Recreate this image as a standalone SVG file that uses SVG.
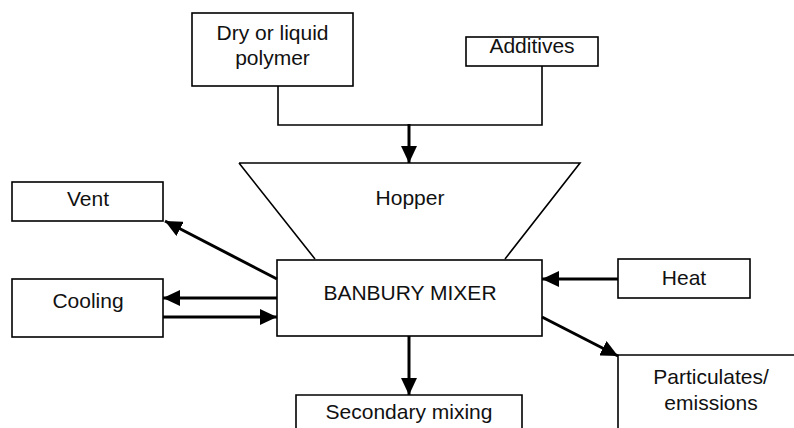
<svg xmlns="http://www.w3.org/2000/svg" width="794" height="428" viewBox="0 0 794 428">
<style>
.box{fill:#fff;stroke:#000;stroke-width:1.6}
.ln{fill:none;stroke:#000;stroke-width:1.6}
.ar{fill:none;stroke:#000;stroke-width:3;marker-end:url(#ah)}
text{font-family:"Liberation Sans",Arial,sans-serif;font-size:21px;fill:#111;text-anchor:middle}
</style>
<defs>
<marker id="ah" markerUnits="userSpaceOnUse" markerWidth="18" markerHeight="16" refX="17" refY="8" orient="auto">
<path d="M0,0 L17,8 L0,16 Z" fill="#000"/>
</marker>
</defs>
<g id="hopper">
<path class="ln" d="M239,163 L580,163 L505,259 M239,163 L315,259"/>
<text x="410" y="205">Hopper</text>
</g>
<g id="polymer">
<rect class="box" x="192" y="13" width="161" height="73"/>
<text x="272.5" y="40">Dry or liquid</text>
<text x="272.5" y="65">polymer</text>
</g>
<g id="additives">
<rect class="box" x="466" y="37" width="132" height="29"/>
<text x="532" y="53">Additives</text>
</g>
<g id="banbury">
<rect class="box" x="277" y="260" width="265" height="76"/>
<text x="410" y="300">BANBURY MIXER</text>
</g>
<g id="vent">
<rect class="box" x="12" y="182" width="151" height="39"/>
<text x="88" y="206">Vent</text>
</g>
<g id="cooling">
<rect class="box" x="12" y="279" width="151" height="58"/>
<text x="88" y="308">Cooling</text>
</g>
<g id="heat">
<rect class="box" x="618" y="259" width="132" height="39"/>
<text x="684" y="285">Heat</text>
</g>
<g id="secondary">
<path class="box" d="M296,430 L296,395 L522,395 L522,430"/>
<text x="409" y="419">Secondary mixing</text>
</g>
<g id="particulates">
<path class="ln" d="M618,430 L618,355 L796,355"/>
<text x="711" y="384">Particulates/</text>
<text x="711" y="410">emissions</text>
</g>
<g id="connectors">
<path class="ln" d="M278,86 L278,125 L542,125 L542,66"/>
<path class="ar" d="M409,124 L409,163"/>
<path class="ar" d="M277,279 L165,221"/>
<path class="ar" d="M277,298 L163,298"/>
<path class="ar" d="M163,317 L277,317"/>
<path class="ar" d="M618,279 L542,279"/>
<path class="ar" d="M542,317 L618,356"/>
<path class="ar" d="M409,336 L409,395"/>
</g>
</svg>
